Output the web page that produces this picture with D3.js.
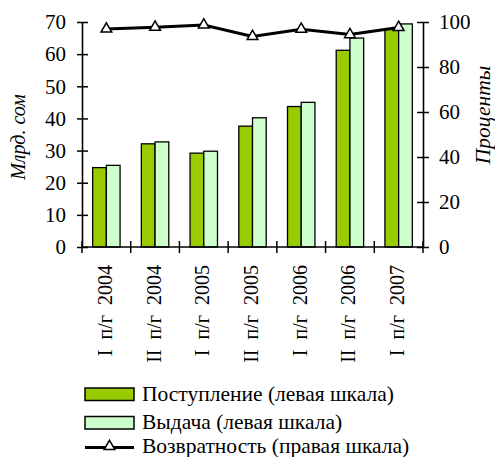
<!DOCTYPE html>
<html>
<head>
<meta charset="utf-8">
<script src="https://cdn.jsdelivr.net/npm/d3@7"></script>
<style>
  body { margin: 0; background: #fff; }
</style>
</head>
<body>
<div id="chart"></div>
<script>
// Chart data
const categories = ["I п/г 2004", "II п/г 2004", "I п/г 2005", "II п/г 2005", "I п/г 2006", "II п/г 2006", "I п/г 2007"];
const receipts = [24.7, 32.1, 29.2, 37.6, 43.7, 61.2, 67.8];   // Поступление, млрд. сом
const issues = [25.4, 32.7, 29.8, 40.2, 45.0, 65.0, 69.4];     // Выдача, млрд. сом
const returnRate = [96.9, 97.7, 98.7, 93.6, 96.8, 94.4, 97.6]; // Возвратность, %
const leftTicks = [0, 10, 20, 30, 40, 50, 60, 70];
const rightTicks = [0, 20, 40, 60, 80, 100];

const series = [
    { name: "Поступление (левая шкала)", values: receipts, color: "#99cc00" },
    { name: "Выдача (левая шкала)", values: issues, color: "#ccffcc" }
];

const FONT = "'Liberation Serif', 'DejaVu Serif', serif";

const margin = { top: 22, right: 72, bottom: 210, left: 82 },
    width = 495 - margin.left - margin.right,
    height = 457 - margin.top - margin.bottom;

const svg = d3.select("#chart")
    .append("svg")
    .attr("width", 495)
    .attr("height", 457);

const g = svg.append("g")
    .attr("transform", "translate(" + margin.left + "," + margin.top + ")");

// Scales
const x0 = d3.scaleBand().domain(categories).range([0, width]).padding(0);
const x1 = d3.scaleBand().domain(series.map(s => s.name))
    .range([0, x0.bandwidth()]).paddingInner(0).paddingOuter(0.776);
const yL = d3.scaleLinear().domain([0, 70]).range([height, 0]);
const yR = d3.scaleLinear().domain([0, 100]).range([height, 0]);

// Bars
series.forEach(s => {
    g.selectAll(null)
        .data(categories)
        .enter()
        .append("rect")
        .attr("x", (d, i) => x0(d) + x1(s.name))
        .attr("y", (d, i) => yL(s.values[i]))
        .attr("width", x1.bandwidth())
        .attr("height", (d, i) => height - yL(s.values[i]))
        .attr("fill", s.color)
        .attr("stroke", "#000")
        .attr("stroke-width", 1.3);
});

// Left axis
g.append("g")
    .call(d3.axisLeft(yL).tickValues(leftTicks).tickSize(0).tickPadding(16))
    .call(a => a.select(".domain").attr("stroke-width", 1.6))
    .call(a => a.selectAll(".tick line").attr("x1", -5).attr("x2", 6).attr("stroke-width", 1.5))
    .call(a => a.selectAll(".tick text").style("font-family", FONT).style("font-size", "21px"));

// Right axis
g.append("g")
    .attr("transform", "translate(" + width + ",0)")
    .call(d3.axisRight(yR).tickValues(rightTicks).tickSize(0).tickPadding(16))
    .call(a => a.select(".domain").attr("stroke-width", 1.6))
    .call(a => a.selectAll(".tick line").attr("x1", -6).attr("x2", 6).attr("stroke-width", 1.5))
    .call(a => a.selectAll(".tick text").style("font-family", FONT).style("font-size", "21px"));

// Bottom axis: ticks between categories, rotated labels
const xAxis = g.append("g").attr("transform", "translate(0," + height + ")");
xAxis.append("line")
    .attr("x1", 0).attr("x2", width)
    .attr("stroke", "#000").attr("stroke-width", 1.6);
xAxis.selectAll(".sep")
    .data(d3.range(categories.length + 1))
    .enter()
    .append("line")
    .attr("x1", i => i * x0.step()).attr("x2", i => i * x0.step())
    .attr("y1", -6).attr("y2", 6)
    .attr("stroke", "#000").attr("stroke-width", 1.5);
xAxis.selectAll(".lbl")
    .data(categories)
    .enter()
    .append("text")
    .attr("transform", d => "translate(" + (x0(d) + x0.bandwidth() / 2 + 5.5) + ",18) rotate(-90)")
    .attr("text-anchor", "end")
    .style("font-family", FONT)
    .style("font-size", "20px")
    .style("white-space", "pre")
    .text(d => d.replace(/ /g, "  "));

// Line on right scale
const line = d3.line()
    .x((d, i) => x0(categories[i]) + x0.bandwidth() / 2)
    .y(d => yR(d));

g.append("path")
    .datum(returnRate)
    .attr("d", line)
    .attr("fill", "none")
    .attr("stroke", "#000")
    .attr("stroke-width", 3);

const tri = d3.symbol().type(d3.symbolTriangle).size(50);
g.selectAll(".mk")
    .data(returnRate)
    .enter()
    .append("path")
    .attr("d", tri)
    .attr("transform", (d, i) => "translate(" + (x0(categories[i]) + x0.bandwidth() / 2) + "," + yR(d) + ")")
    .attr("fill", "#fff")
    .attr("stroke", "#000")
    .attr("stroke-width", 1.5);

// Axis titles
svg.append("text")
    .attr("transform", "translate(25,137) rotate(-90)")
    .attr("text-anchor", "middle")
    .style("font-family", FONT)
    .style("font-size", "20px")
    .style("font-style", "italic")
    .text("Млрд. сом");

svg.append("text")
    .attr("transform", "translate(490,115) rotate(-90)")
    .attr("text-anchor", "middle")
    .style("font-family", FONT)
    .style("font-size", "21.5px")
    .style("font-style", "italic")
    .text("Проценты");

// Legend
const legend = svg.append("g").attr("transform", "translate(85,388)");
series.forEach((s, i) => {
    legend.append("rect")
        .attr("x", 0).attr("y", i * 28.5)
        .attr("width", 49).attr("height", 12.5)
        .attr("fill", s.color)
        .attr("stroke", "#000")
        .attr("stroke-width", 1.5);
    legend.append("text")
        .attr("x", 57).attr("y", i * 28 + 12.5)
        .style("font-family", FONT)
        .style("font-size", "21.5px")
        .text(s.name);
});
legend.append("line")
    .attr("x1", 0).attr("x2", 49)
    .attr("y1", 59.5).attr("y2", 59.5)
    .attr("stroke", "#000").attr("stroke-width", 3);
legend.append("path")
    .attr("d", tri)
    .attr("transform", "translate(24.5,58.5)")
    .attr("fill", "#fff")
    .attr("stroke", "#000")
    .attr("stroke-width", 1.5);
legend.append("text")
    .attr("x", 57).attr("y", 64.5)
    .style("font-family", FONT)
    .style("font-size", "21.5px")
    .text("Возвратность (правая шкала)");
</script>
</body>
</html>
